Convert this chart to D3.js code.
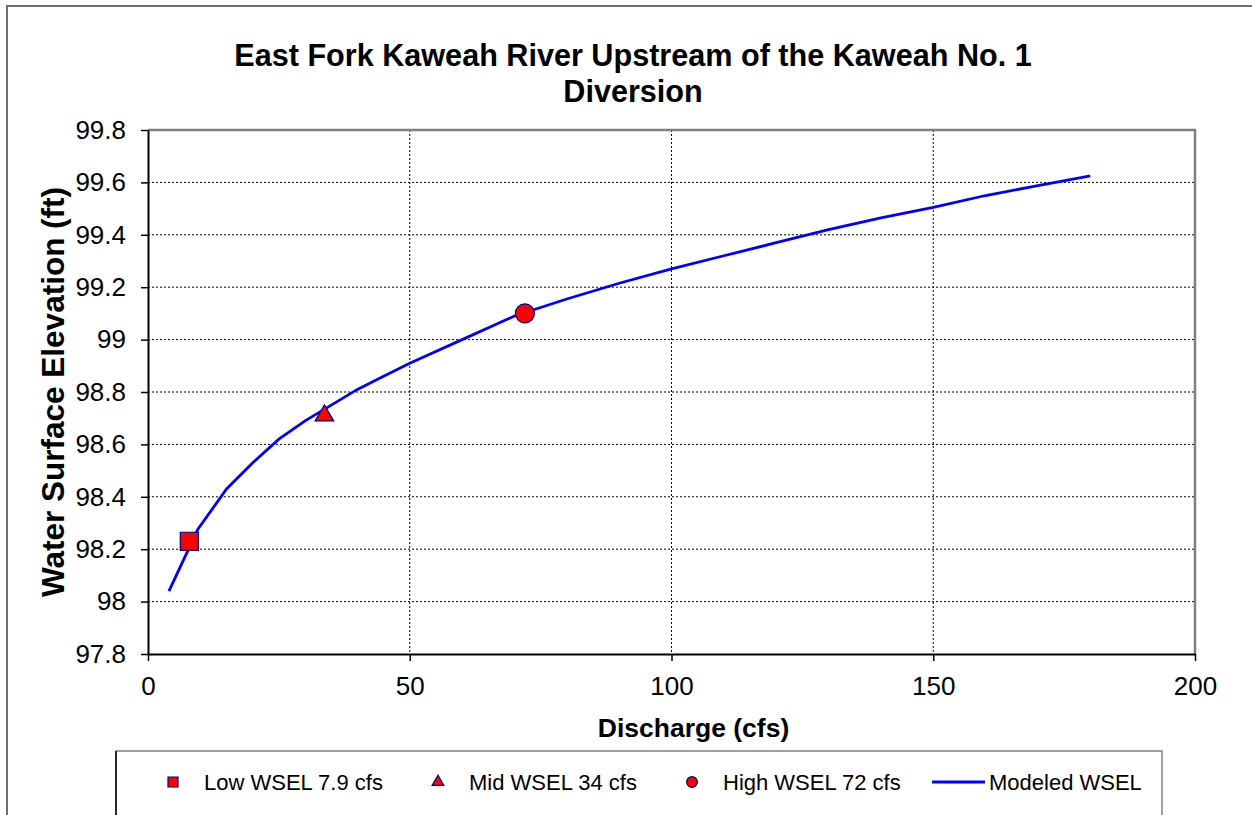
<!DOCTYPE html>
<html lang="en">
<head>
    <meta charset="utf-8">
    <title>East Fork Kaweah River WSEL</title>
    <style>
        body { margin: 0; background: #fff; }
        svg { display: block; font-family: Arial, "Liberation Sans", sans-serif; }
        .axis .domain { stroke: #000; stroke-width: 2; }
        .axis .tick line { stroke: #000; stroke-width: 1.5; }
        .axis .tick text { font-size: 26px; fill: #000; }
        .grid line { stroke: #000; stroke-width: 1; stroke-dasharray: 2,2; }
    </style>
</head>
<body>
<div id="chart"></div>

<script src="https://d3js.org/d3.v7.min.js"></script>
<script>
    // modeled rating curve
    var modeledQ = [4, 9.5, 15, 20, 25, 30, 35, 40, 45, 50, 60, 70, 80, 90, 100, 110, 120, 130, 140, 150, 160, 170, 180];
    var modeledWsel = [98.04, 98.275, 98.43, 98.53, 98.62, 98.69, 98.75, 98.81, 98.86, 98.91, 99.0, 99.09, 99.155, 99.215, 99.27, 99.32, 99.37, 99.42, 99.465, 99.505, 99.55, 99.588, 99.625];

    // observed points
    var obsLabels = ["Low WSEL 7.9 cfs", "Mid WSEL 34 cfs", "High WSEL 72 cfs"];
    var obsQ = [7.9, 33.7, 72];
    var obsWsel = [98.23, 98.71, 99.10];
    var obsShapes = ["square", "triangle", "circle"];

    var xTicks = [0, 50, 100, 150, 200];
    var yTicks = [97.8, 98, 98.2, 98.4, 98.6, 98.8, 99, 99.2, 99.4, 99.6, 99.8];

    var width = 1252, height = 815;
    var margin = {top: 130, right: 57, bottom: 161, left: 148};
    var plotW = width - margin.left - margin.right;
    var plotH = height - margin.top - margin.bottom;

    var symbolTypes = {
        square: d3.symbolSquare,
        triangle: d3.symbolTriangle,
        circle: d3.symbolCircle
    };
    var bigSizes = {square: 330, triangle: 150, circle: 285};
    var smallSizes = {square: 100, triangle: 60, circle: 90};

    var svg = d3.select("#chart").append("svg")
        .attr("width", width)
        .attr("height", height);

    // outer chart frame (runs off the picture on right and bottom)
    svg.append("rect")
        .attr("x", 7).attr("y", 6)
        .attr("width", 1300).attr("height", 900)
        .attr("fill", "none")
        .attr("stroke", "#707070")
        .attr("stroke-width", 2);

    var x = d3.scaleLinear().domain([0, 200]).range([0, plotW]);
    var y = d3.scaleLinear().domain([97.8, 99.8]).range([plotH, 0]);

    var g = svg.append("g").attr("transform", "translate(" + margin.left + "," + margin.top + ")");

    // gridlines
    var grid = g.append("g").attr("class", "grid");
    grid.selectAll("line.gy").data(yTicks.slice(1, -1)).enter().append("line")
        .attr("class", "gy")
        .attr("x1", 0).attr("x2", plotW)
        .attr("y1", function (d) { return y(d); })
        .attr("y2", function (d) { return y(d); });
    grid.selectAll("line.gx").data(xTicks.slice(1, -1)).enter().append("line")
        .attr("class", "gx")
        .attr("y1", 0).attr("y2", plotH)
        .attr("x1", function (d) { return x(d); })
        .attr("x2", function (d) { return x(d); });

    // top and right plot border
    g.append("path")
        .attr("d", "M0,0H" + plotW + "V" + plotH)
        .attr("fill", "none")
        .attr("stroke", "#808080")
        .attr("stroke-width", 2.5);

    var fmt = function (d) { return String(+d.toFixed(1)); };

    g.append("g").attr("class", "axis")
        .call(d3.axisLeft(y).tickValues(yTicks).tickFormat(fmt).tickSizeInner(7).tickSizeOuter(0).tickPadding(15));

    g.append("g").attr("class", "axis")
        .attr("transform", "translate(0," + plotH + ")")
        .call(d3.axisBottom(x).tickValues(xTicks).tickFormat(fmt).tickSizeInner(7).tickSizeOuter(0).tickPadding(16));

    // modeled curve
    var line = d3.line()
        .x(function (d, i) { return x(modeledQ[i]); })
        .y(function (d) { return y(d); });

    g.append("path")
        .datum(modeledWsel)
        .attr("d", line)
        .attr("fill", "none")
        .attr("stroke", "#0000ff")
        .attr("stroke-width", 2.8);

    // observed markers
    g.selectAll("path.obs").data(obsQ).enter().append("path")
        .attr("class", "obs")
        .attr("transform", function (d, i) { return "translate(" + x(d) + "," + y(obsWsel[i]) + ")"; })
        .attr("d", function (d, i) {
            return d3.symbol().type(symbolTypes[obsShapes[i]]).size(bigSizes[obsShapes[i]])();
        })
        .attr("fill", "#ff0000")
        .attr("stroke", "#000080")
        .attr("stroke-width", 1.2);

    // titles
    var title = svg.append("text")
        .attr("text-anchor", "middle")
        .attr("font-size", 30.6)
        .attr("font-weight", "bold");
    title.append("tspan").attr("x", 633).attr("y", 66).text("East Fork Kaweah River Upstream of the Kaweah No. 1");
    title.append("tspan").attr("x", 633).attr("y", 102).text("Diversion");

    svg.append("text")
        .attr("x", margin.left + plotW / 2 + 22)
        .attr("y", 737)
        .attr("text-anchor", "middle")
        .attr("font-size", 26.5)
        .attr("font-weight", "bold")
        .text("Discharge (cfs)");

    svg.append("text")
        .attr("transform", "translate(64," + (margin.top + plotH / 2) + ") rotate(-90)")
        .attr("text-anchor", "middle")
        .attr("font-size", 31.5)
        .attr("font-weight", "bold")
        .text("Water Surface Elevation (ft)");

    // legend
    var legend = svg.append("g");
    legend.append("rect")
        .attr("x", 116).attr("y", 751)
        .attr("width", 1046).attr("height", 120)
        .attr("fill", "#fff")
        .attr("stroke", "#808080")
        .attr("stroke-width", 1.5);
    legend.append("line")
        .attr("x1", 116).attr("x2", 116).attr("y1", 751).attr("y2", 820)
        .attr("stroke", "#000").attr("stroke-width", 1.5);

    var legendX = [173, 438, 692];
    var legendY = 782;
    obsLabels.forEach(function (label, i) {
        legend.append("path")
            .attr("transform", "translate(" + legendX[i] + "," + legendY + ")")
            .attr("d", d3.symbol().type(symbolTypes[obsShapes[i]]).size(smallSizes[obsShapes[i]])())
            .attr("fill", "#ff0000")
            .attr("stroke", "#000080")
            .attr("stroke-width", 1.2);
        legend.append("text")
            .attr("x", legendX[i] + 31)
            .attr("y", legendY + 8)
            .attr("font-size", 22)
            .text(label);
    });
    legend.append("line")
        .attr("x1", 932).attr("x2", 985)
        .attr("y1", legendY).attr("y2", legendY)
        .attr("stroke", "#0000ff")
        .attr("stroke-width", 2.8);
    legend.append("text")
        .attr("x", 989)
        .attr("y", legendY + 8)
        .attr("font-size", 22)
        .text("Modeled WSEL");
</script>
</body>
</html>
